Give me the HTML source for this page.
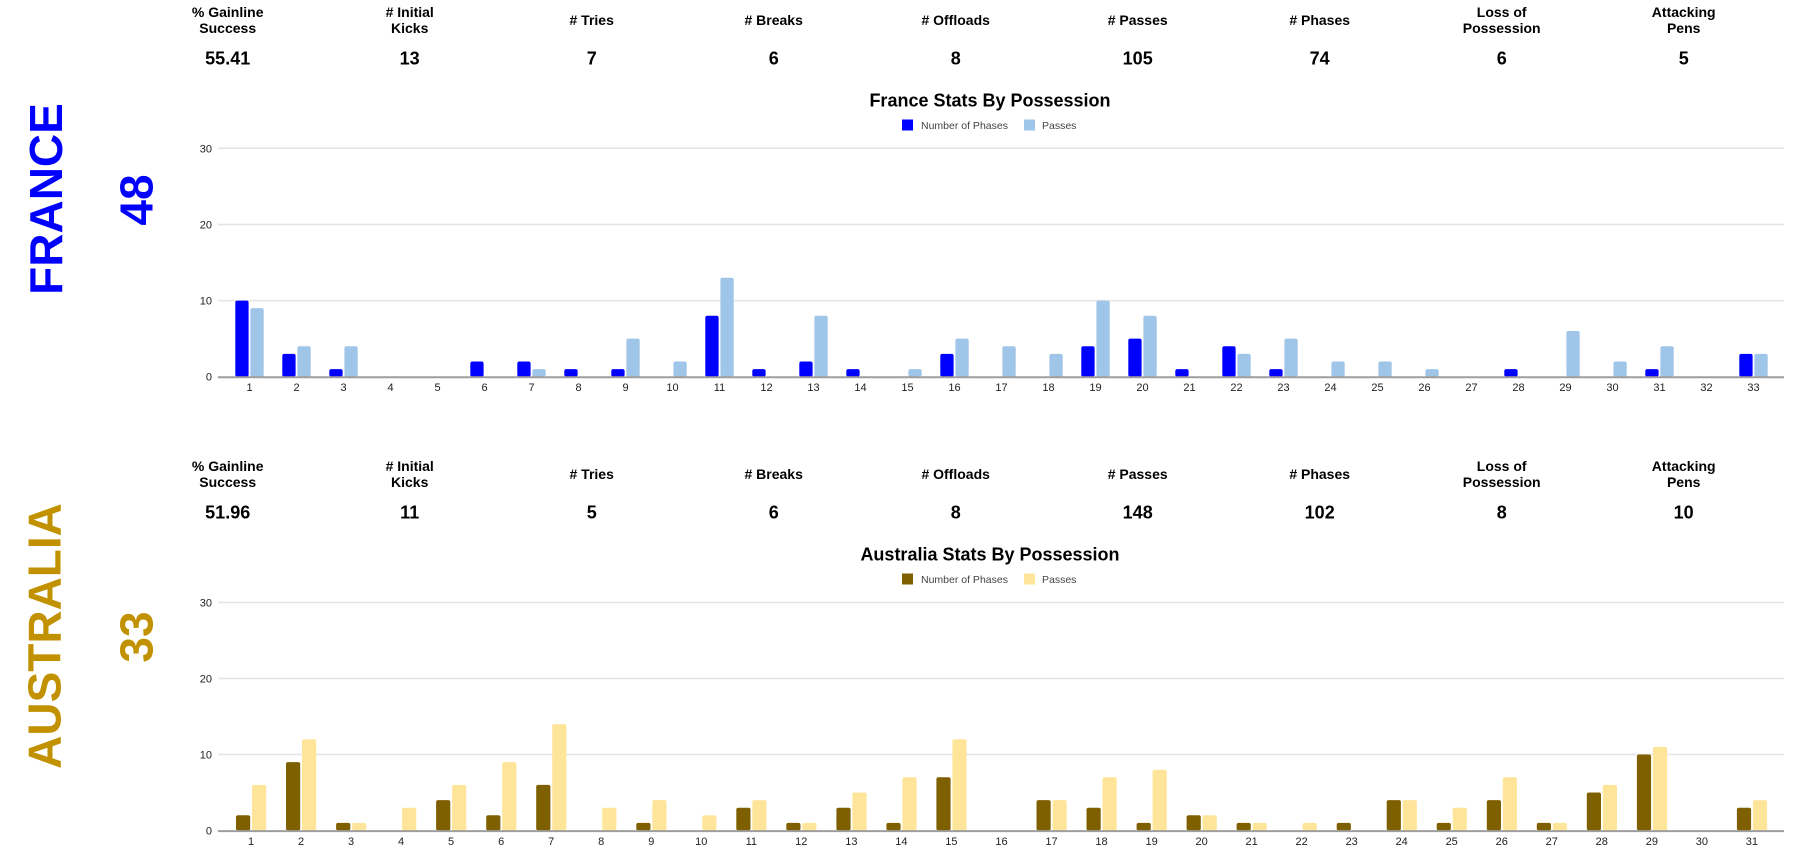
<!DOCTYPE html>
<html><head><meta charset="utf-8"><style>
html,body{margin:0;padding:0;background:#fff;width:1803px;height:858px;overflow:hidden}
svg{display:block;font-family:"Liberation Sans",Arial,sans-serif}
</style></head><body>
<svg width="1803" height="858" viewBox="0 0 1803 858" xmlns="http://www.w3.org/2000/svg">
<rect width="1803" height="858" fill="#fff"/>

<!-- ===== FRANCE ===== -->
<text transform="translate(45.5,199) rotate(-90)" y="16.5" text-anchor="middle" font-size="46" font-weight="bold" fill="#0000ff">FRANCE</text>
<text transform="translate(136,200) rotate(-90)" y="16.5" text-anchor="middle" font-size="46" font-weight="bold" fill="#0000ff">48</text>

<g font-size="14" font-weight="bold" fill="#000" text-anchor="middle">
<text x="227.7" y="17">% Gainline</text><text x="227.7" y="33">Success</text>
<text x="409.7" y="17"># Initial</text><text x="409.7" y="33">Kicks</text>
<text x="591.7" y="25"># Tries</text>
<text x="773.7" y="25"># Breaks</text>
<text x="955.7" y="25"># Offloads</text>
<text x="1137.7" y="25"># Passes</text>
<text x="1319.7" y="25"># Phases</text>
<text x="1501.7" y="17">Loss of</text><text x="1501.7" y="33">Possession</text>
<text x="1683.7" y="17">Attacking</text><text x="1683.7" y="33">Pens</text>
</g>
<g font-size="18" font-weight="bold" fill="#000" text-anchor="middle">
<text x="227.7" y="64.5">55.41</text>
<text x="409.7" y="64.5">13</text>
<text x="591.7" y="64.5">7</text>
<text x="773.7" y="64.5">6</text>
<text x="955.7" y="64.5">8</text>
<text x="1137.7" y="64.5">105</text>
<text x="1319.7" y="64.5">74</text>
<text x="1501.7" y="64.5">6</text>
<text x="1683.7" y="64.5">5</text>
</g>

<text x="990" y="106.5" text-anchor="middle" font-size="18" font-weight="bold" fill="#000">France Stats By Possession</text>
<rect x="902" y="119.5" width="11" height="11" fill="#0000ff"/>
<text x="921" y="129" font-size="10.5" fill="#444">Number of Phases</text>
<rect x="1024" y="119.5" width="11" height="11" fill="#9fc5e8"/>
<text x="1042" y="129" font-size="10.5" fill="#444">Passes</text>

<g stroke="#e4e4e4" stroke-width="1.5">
<line x1="218" y1="148.3" x2="1784" y2="148.3"/>
<line x1="218" y1="224.5" x2="1784" y2="224.5"/>
<line x1="218" y1="300.6" x2="1784" y2="300.6"/>
</g>
<g font-size="11" fill="#222" text-anchor="end">
<text x="212" y="152.3">30</text>
<text x="212" y="228.5">20</text>
<text x="212" y="304.6">10</text>
<text x="212" y="380.7">0</text>
</g>

<g transform="translate(0,376.7) scale(1,7.613)">
<g transform="translate(249.5,0)"><rect x="-14.2" y="-10" width="13.3" height="10" rx="2" ry="0.26" fill="#0000ff"/><rect x="0.9" y="-9" width="13.3" height="9" rx="2" ry="0.26" fill="#9fc5e8"/></g>
<g transform="translate(296.5,0)"><rect x="-14.2" y="-3" width="13.3" height="3" rx="2" ry="0.26" fill="#0000ff"/><rect x="0.9" y="-4" width="13.3" height="4" rx="2" ry="0.26" fill="#9fc5e8"/></g>
<g transform="translate(343.5,0)"><rect x="-14.2" y="-1" width="13.3" height="1" rx="2" ry="0.26" fill="#0000ff"/><rect x="0.9" y="-4" width="13.3" height="4" rx="2" ry="0.26" fill="#9fc5e8"/></g>
<g transform="translate(484.5,0)"><rect x="-14.2" y="-2" width="13.3" height="2" rx="2" ry="0.26" fill="#0000ff"/></g>
<g transform="translate(531.5,0)"><rect x="-14.2" y="-2" width="13.3" height="2" rx="2" ry="0.26" fill="#0000ff"/><rect x="0.9" y="-1" width="13.3" height="1" rx="2" ry="0.26" fill="#9fc5e8"/></g>
<g transform="translate(578.5,0)"><rect x="-14.2" y="-1" width="13.3" height="1" rx="2" ry="0.26" fill="#0000ff"/></g>
<g transform="translate(625.5,0)"><rect x="-14.2" y="-1" width="13.3" height="1" rx="2" ry="0.26" fill="#0000ff"/><rect x="0.9" y="-5" width="13.3" height="5" rx="2" ry="0.26" fill="#9fc5e8"/></g>
<g transform="translate(672.5,0)"><rect x="0.9" y="-2" width="13.3" height="2" rx="2" ry="0.26" fill="#9fc5e8"/></g>
<g transform="translate(719.5,0)"><rect x="-14.2" y="-8" width="13.3" height="8" rx="2" ry="0.26" fill="#0000ff"/><rect x="0.9" y="-13" width="13.3" height="13" rx="2" ry="0.26" fill="#9fc5e8"/></g>
<g transform="translate(766.5,0)"><rect x="-14.2" y="-1" width="13.3" height="1" rx="2" ry="0.26" fill="#0000ff"/></g>
<g transform="translate(813.5,0)"><rect x="-14.2" y="-2" width="13.3" height="2" rx="2" ry="0.26" fill="#0000ff"/><rect x="0.9" y="-8" width="13.3" height="8" rx="2" ry="0.26" fill="#9fc5e8"/></g>
<g transform="translate(860.5,0)"><rect x="-14.2" y="-1" width="13.3" height="1" rx="2" ry="0.26" fill="#0000ff"/></g>
<g transform="translate(907.5,0)"><rect x="0.9" y="-1" width="13.3" height="1" rx="2" ry="0.26" fill="#9fc5e8"/></g>
<g transform="translate(954.5,0)"><rect x="-14.2" y="-3" width="13.3" height="3" rx="2" ry="0.26" fill="#0000ff"/><rect x="0.9" y="-5" width="13.3" height="5" rx="2" ry="0.26" fill="#9fc5e8"/></g>
<g transform="translate(1001.5,0)"><rect x="0.9" y="-4" width="13.3" height="4" rx="2" ry="0.26" fill="#9fc5e8"/></g>
<g transform="translate(1048.5,0)"><rect x="0.9" y="-3" width="13.3" height="3" rx="2" ry="0.26" fill="#9fc5e8"/></g>
<g transform="translate(1095.5,0)"><rect x="-14.2" y="-4" width="13.3" height="4" rx="2" ry="0.26" fill="#0000ff"/><rect x="0.9" y="-10" width="13.3" height="10" rx="2" ry="0.26" fill="#9fc5e8"/></g>
<g transform="translate(1142.5,0)"><rect x="-14.2" y="-5" width="13.3" height="5" rx="2" ry="0.26" fill="#0000ff"/><rect x="0.9" y="-8" width="13.3" height="8" rx="2" ry="0.26" fill="#9fc5e8"/></g>
<g transform="translate(1189.5,0)"><rect x="-14.2" y="-1" width="13.3" height="1" rx="2" ry="0.26" fill="#0000ff"/></g>
<g transform="translate(1236.5,0)"><rect x="-14.2" y="-4" width="13.3" height="4" rx="2" ry="0.26" fill="#0000ff"/><rect x="0.9" y="-3" width="13.3" height="3" rx="2" ry="0.26" fill="#9fc5e8"/></g>
<g transform="translate(1283.5,0)"><rect x="-14.2" y="-1" width="13.3" height="1" rx="2" ry="0.26" fill="#0000ff"/><rect x="0.9" y="-5" width="13.3" height="5" rx="2" ry="0.26" fill="#9fc5e8"/></g>
<g transform="translate(1330.5,0)"><rect x="0.9" y="-2" width="13.3" height="2" rx="2" ry="0.26" fill="#9fc5e8"/></g>
<g transform="translate(1377.5,0)"><rect x="0.9" y="-2" width="13.3" height="2" rx="2" ry="0.26" fill="#9fc5e8"/></g>
<g transform="translate(1424.5,0)"><rect x="0.9" y="-1" width="13.3" height="1" rx="2" ry="0.26" fill="#9fc5e8"/></g>
<g transform="translate(1518.5,0)"><rect x="-14.2" y="-1" width="13.3" height="1" rx="2" ry="0.26" fill="#0000ff"/></g>
<g transform="translate(1565.5,0)"><rect x="0.9" y="-6" width="13.3" height="6" rx="2" ry="0.26" fill="#9fc5e8"/></g>
<g transform="translate(1612.5,0)"><rect x="0.9" y="-2" width="13.3" height="2" rx="2" ry="0.26" fill="#9fc5e8"/></g>
<g transform="translate(1659.5,0)"><rect x="-14.2" y="-1" width="13.3" height="1" rx="2" ry="0.26" fill="#0000ff"/><rect x="0.9" y="-4" width="13.3" height="4" rx="2" ry="0.26" fill="#9fc5e8"/></g>
<g transform="translate(1753.5,0)"><rect x="-14.2" y="-3" width="13.3" height="3" rx="2" ry="0.26" fill="#0000ff"/><rect x="0.9" y="-3" width="13.3" height="3" rx="2" ry="0.26" fill="#9fc5e8"/></g>
</g>
<line x1="218" y1="377.3" x2="1784" y2="377.3" stroke="#9e9e9e" stroke-width="2"/>

<g font-size="11" fill="#222" text-anchor="middle">
<text x="249.5" y="391">1</text><text x="296.5" y="391">2</text><text x="343.5" y="391">3</text><text x="390.5" y="391">4</text><text x="437.5" y="391">5</text><text x="484.5" y="391">6</text><text x="531.5" y="391">7</text><text x="578.5" y="391">8</text><text x="625.5" y="391">9</text><text x="672.5" y="391">10</text><text x="719.5" y="391">11</text><text x="766.5" y="391">12</text><text x="813.5" y="391">13</text><text x="860.5" y="391">14</text><text x="907.5" y="391">15</text><text x="954.5" y="391">16</text><text x="1001.5" y="391">17</text><text x="1048.5" y="391">18</text><text x="1095.5" y="391">19</text><text x="1142.5" y="391">20</text><text x="1189.5" y="391">21</text><text x="1236.5" y="391">22</text><text x="1283.5" y="391">23</text><text x="1330.5" y="391">24</text><text x="1377.5" y="391">25</text><text x="1424.5" y="391">26</text><text x="1471.5" y="391">27</text><text x="1518.5" y="391">28</text><text x="1565.5" y="391">29</text><text x="1612.5" y="391">30</text><text x="1659.5" y="391">31</text><text x="1706.5" y="391">32</text><text x="1753.5" y="391">33</text>
</g>

<!-- ===== AUSTRALIA ===== -->
<text transform="translate(44,636) rotate(-90)" y="16.5" text-anchor="middle" font-size="46" font-weight="bold" fill="#c29100">AUSTRALIA</text>
<text transform="translate(136,637) rotate(-90)" y="16.5" text-anchor="middle" font-size="46" font-weight="bold" fill="#c29100">33</text>

<g font-size="14" font-weight="bold" fill="#000" text-anchor="middle">
<text x="227.7" y="471">% Gainline</text><text x="227.7" y="487">Success</text>
<text x="409.7" y="471"># Initial</text><text x="409.7" y="487">Kicks</text>
<text x="591.7" y="479"># Tries</text>
<text x="773.7" y="479"># Breaks</text>
<text x="955.7" y="479"># Offloads</text>
<text x="1137.7" y="479"># Passes</text>
<text x="1319.7" y="479"># Phases</text>
<text x="1501.7" y="471">Loss of</text><text x="1501.7" y="487">Possession</text>
<text x="1683.7" y="471">Attacking</text><text x="1683.7" y="487">Pens</text>
</g>
<g font-size="18" font-weight="bold" fill="#000" text-anchor="middle">
<text x="227.7" y="518.5">51.96</text>
<text x="409.7" y="518.5">11</text>
<text x="591.7" y="518.5">5</text>
<text x="773.7" y="518.5">6</text>
<text x="955.7" y="518.5">8</text>
<text x="1137.7" y="518.5">148</text>
<text x="1319.7" y="518.5">102</text>
<text x="1501.7" y="518.5">8</text>
<text x="1683.7" y="518.5">10</text>
</g>

<text x="990" y="560.5" text-anchor="middle" font-size="18" font-weight="bold" fill="#000">Australia Stats By Possession</text>
<rect x="902" y="573.5" width="11" height="11" fill="#7f6000"/>
<text x="921" y="583" font-size="10.5" fill="#444">Number of Phases</text>
<rect x="1024" y="573.5" width="11" height="11" fill="#ffe599"/>
<text x="1042" y="583" font-size="10.5" fill="#444">Passes</text>

<g stroke="#e4e4e4" stroke-width="1.5">
<line x1="218" y1="602.5" x2="1784" y2="602.5"/>
<line x1="218" y1="678.5" x2="1784" y2="678.5"/>
<line x1="218" y1="754.5" x2="1784" y2="754.5"/>
</g>
<g font-size="11" fill="#222" text-anchor="end">
<text x="212" y="606.5">30</text>
<text x="212" y="682.5">20</text>
<text x="212" y="758.5">10</text>
<text x="212" y="834.5">0</text>
</g>

<g transform="translate(0,830.5) scale(1,7.6)">
<g transform="translate(251,0)"><rect x="-15" y="-2" width="14.2" height="2" rx="2" ry="0.26" fill="#7f6000"/><rect x="1" y="-6" width="14.2" height="6" rx="2" ry="0.26" fill="#ffe599"/></g>
<g transform="translate(301,0)"><rect x="-15" y="-9" width="14.2" height="9" rx="2" ry="0.26" fill="#7f6000"/><rect x="1" y="-12" width="14.2" height="12" rx="2" ry="0.26" fill="#ffe599"/></g>
<g transform="translate(351.1,0)"><rect x="-15" y="-1" width="14.2" height="1" rx="2" ry="0.26" fill="#7f6000"/><rect x="1" y="-1" width="14.2" height="1" rx="2" ry="0.26" fill="#ffe599"/></g>
<g transform="translate(401.1,0)"><rect x="1" y="-3" width="14.2" height="3" rx="2" ry="0.26" fill="#ffe599"/></g>
<g transform="translate(451.1,0)"><rect x="-15" y="-4" width="14.2" height="4" rx="2" ry="0.26" fill="#7f6000"/><rect x="1" y="-6" width="14.2" height="6" rx="2" ry="0.26" fill="#ffe599"/></g>
<g transform="translate(501.2,0)"><rect x="-15" y="-2" width="14.2" height="2" rx="2" ry="0.26" fill="#7f6000"/><rect x="1" y="-9" width="14.2" height="9" rx="2" ry="0.26" fill="#ffe599"/></g>
<g transform="translate(551.2,0)"><rect x="-15" y="-6" width="14.2" height="6" rx="2" ry="0.26" fill="#7f6000"/><rect x="1" y="-14" width="14.2" height="14" rx="2" ry="0.26" fill="#ffe599"/></g>
<g transform="translate(601.2,0)"><rect x="1" y="-3" width="14.2" height="3" rx="2" ry="0.26" fill="#ffe599"/></g>
<g transform="translate(651.3,0)"><rect x="-15" y="-1" width="14.2" height="1" rx="2" ry="0.26" fill="#7f6000"/><rect x="1" y="-4" width="14.2" height="4" rx="2" ry="0.26" fill="#ffe599"/></g>
<g transform="translate(701.3,0)"><rect x="1" y="-2" width="14.2" height="2" rx="2" ry="0.26" fill="#ffe599"/></g>
<g transform="translate(751.3,0)"><rect x="-15" y="-3" width="14.2" height="3" rx="2" ry="0.26" fill="#7f6000"/><rect x="1" y="-4" width="14.2" height="4" rx="2" ry="0.26" fill="#ffe599"/></g>
<g transform="translate(801.3,0)"><rect x="-15" y="-1" width="14.2" height="1" rx="2" ry="0.26" fill="#7f6000"/><rect x="1" y="-1" width="14.2" height="1" rx="2" ry="0.26" fill="#ffe599"/></g>
<g transform="translate(851.4,0)"><rect x="-15" y="-3" width="14.2" height="3" rx="2" ry="0.26" fill="#7f6000"/><rect x="1" y="-5" width="14.2" height="5" rx="2" ry="0.26" fill="#ffe599"/></g>
<g transform="translate(901.4,0)"><rect x="-15" y="-1" width="14.2" height="1" rx="2" ry="0.26" fill="#7f6000"/><rect x="1" y="-7" width="14.2" height="7" rx="2" ry="0.26" fill="#ffe599"/></g>
<g transform="translate(951.4,0)"><rect x="-15" y="-7" width="14.2" height="7" rx="2" ry="0.26" fill="#7f6000"/><rect x="1" y="-12" width="14.2" height="12" rx="2" ry="0.26" fill="#ffe599"/></g>
<g transform="translate(1051.5,0)"><rect x="-15" y="-4" width="14.2" height="4" rx="2" ry="0.26" fill="#7f6000"/><rect x="1" y="-4" width="14.2" height="4" rx="2" ry="0.26" fill="#ffe599"/></g>
<g transform="translate(1101.5,0)"><rect x="-15" y="-3" width="14.2" height="3" rx="2" ry="0.26" fill="#7f6000"/><rect x="1" y="-7" width="14.2" height="7" rx="2" ry="0.26" fill="#ffe599"/></g>
<g transform="translate(1151.6,0)"><rect x="-15" y="-1" width="14.2" height="1" rx="2" ry="0.26" fill="#7f6000"/><rect x="1" y="-8" width="14.2" height="8" rx="2" ry="0.26" fill="#ffe599"/></g>
<g transform="translate(1201.6,0)"><rect x="-15" y="-2" width="14.2" height="2" rx="2" ry="0.26" fill="#7f6000"/><rect x="1" y="-2" width="14.2" height="2" rx="2" ry="0.26" fill="#ffe599"/></g>
<g transform="translate(1251.6,0)"><rect x="-15" y="-1" width="14.2" height="1" rx="2" ry="0.26" fill="#7f6000"/><rect x="1" y="-1" width="14.2" height="1" rx="2" ry="0.26" fill="#ffe599"/></g>
<g transform="translate(1301.6,0)"><rect x="1" y="-1" width="14.2" height="1" rx="2" ry="0.26" fill="#ffe599"/></g>
<g transform="translate(1351.7,0)"><rect x="-15" y="-1" width="14.2" height="1" rx="2" ry="0.26" fill="#7f6000"/></g>
<g transform="translate(1401.7,0)"><rect x="-15" y="-4" width="14.2" height="4" rx="2" ry="0.26" fill="#7f6000"/><rect x="1" y="-4" width="14.2" height="4" rx="2" ry="0.26" fill="#ffe599"/></g>
<g transform="translate(1451.7,0)"><rect x="-15" y="-1" width="14.2" height="1" rx="2" ry="0.26" fill="#7f6000"/><rect x="1" y="-3" width="14.2" height="3" rx="2" ry="0.26" fill="#ffe599"/></g>
<g transform="translate(1501.8,0)"><rect x="-15" y="-4" width="14.2" height="4" rx="2" ry="0.26" fill="#7f6000"/><rect x="1" y="-7" width="14.2" height="7" rx="2" ry="0.26" fill="#ffe599"/></g>
<g transform="translate(1551.8,0)"><rect x="-15" y="-1" width="14.2" height="1" rx="2" ry="0.26" fill="#7f6000"/><rect x="1" y="-1" width="14.2" height="1" rx="2" ry="0.26" fill="#ffe599"/></g>
<g transform="translate(1601.8,0)"><rect x="-15" y="-5" width="14.2" height="5" rx="2" ry="0.26" fill="#7f6000"/><rect x="1" y="-6" width="14.2" height="6" rx="2" ry="0.26" fill="#ffe599"/></g>
<g transform="translate(1651.9,0)"><rect x="-15" y="-10" width="14.2" height="10" rx="2" ry="0.26" fill="#7f6000"/><rect x="1" y="-11" width="14.2" height="11" rx="2" ry="0.26" fill="#ffe599"/></g>
<g transform="translate(1751.9,0)"><rect x="-15" y="-3" width="14.2" height="3" rx="2" ry="0.26" fill="#7f6000"/><rect x="1" y="-4" width="14.2" height="4" rx="2" ry="0.26" fill="#ffe599"/></g>
</g>
<line x1="218" y1="831.1" x2="1784" y2="831.1" stroke="#9e9e9e" stroke-width="2"/>

<g font-size="11" fill="#222" text-anchor="middle">
<text x="251" y="845">1</text><text x="301" y="845">2</text><text x="351.1" y="845">3</text><text x="401.1" y="845">4</text><text x="451.1" y="845">5</text><text x="501.2" y="845">6</text><text x="551.2" y="845">7</text><text x="601.2" y="845">8</text><text x="651.3" y="845">9</text><text x="701.3" y="845">10</text><text x="751.3" y="845">11</text><text x="801.3" y="845">12</text><text x="851.4" y="845">13</text><text x="901.4" y="845">14</text><text x="951.4" y="845">15</text><text x="1001.5" y="845">16</text><text x="1051.5" y="845">17</text><text x="1101.5" y="845">18</text><text x="1151.6" y="845">19</text><text x="1201.6" y="845">20</text><text x="1251.6" y="845">21</text><text x="1301.6" y="845">22</text><text x="1351.7" y="845">23</text><text x="1401.7" y="845">24</text><text x="1451.7" y="845">25</text><text x="1501.8" y="845">26</text><text x="1551.8" y="845">27</text><text x="1601.8" y="845">28</text><text x="1651.9" y="845">29</text><text x="1701.9" y="845">30</text><text x="1751.9" y="845">31</text>
</g>
</svg>
</body></html>
